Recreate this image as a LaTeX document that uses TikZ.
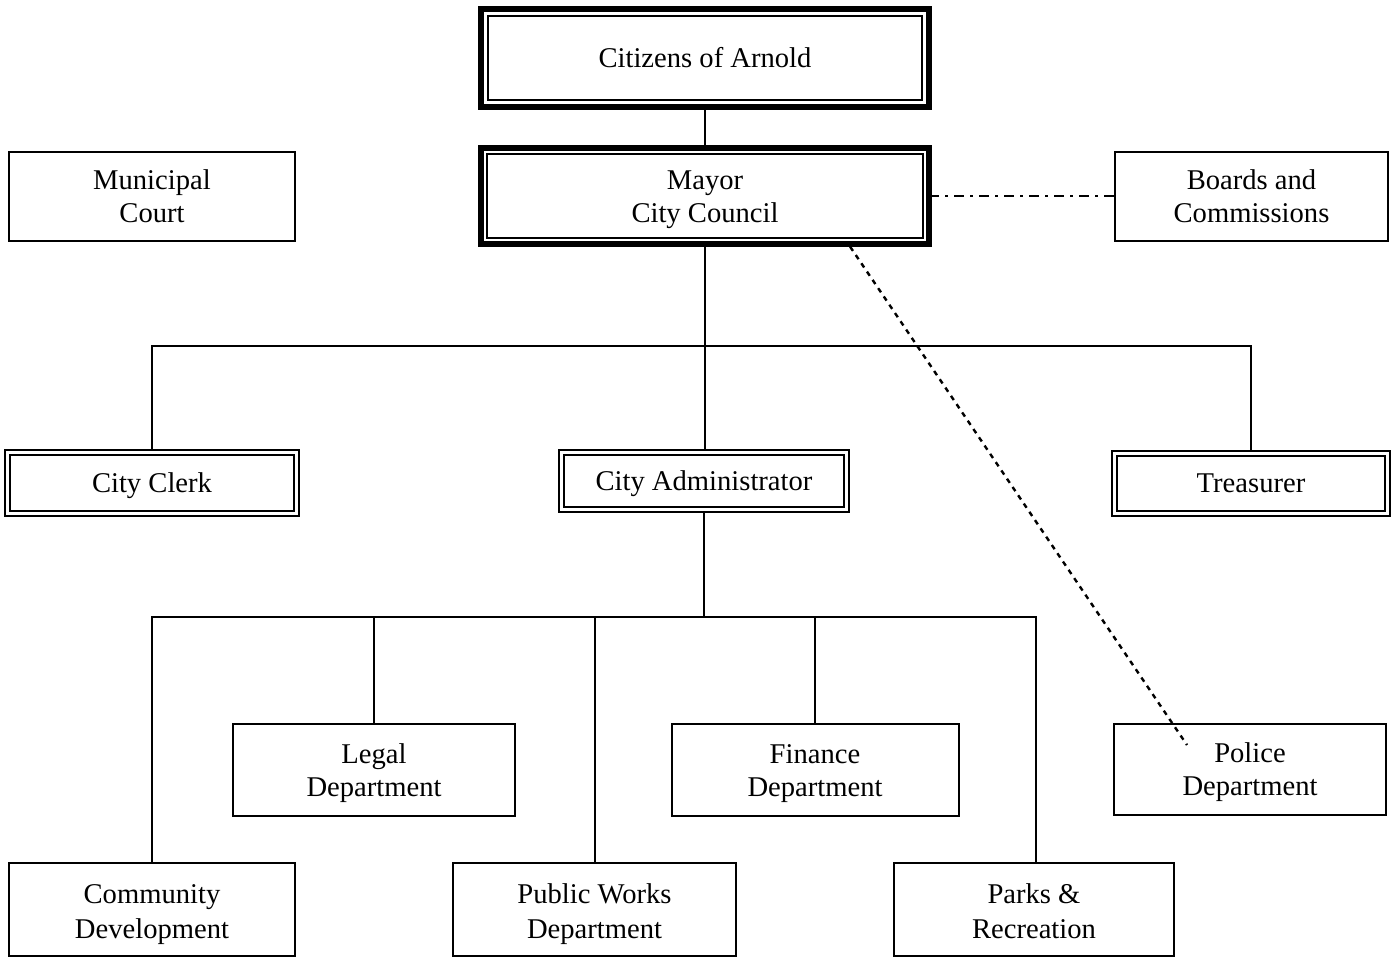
\documentclass[tikz,border=0pt]{standalone}
\usepackage{fontspec}
\setmainfont{Liberation Serif}
\usetikzlibrary{calc}
\newcommand\orgfont{\fontsize{14.3}{16.5}\selectfont}
\newcommand\orgfontb{\fontsize{14.3}{17.5}\selectfont}
\newcommand\orgline[1]{\rule{0pt}{9.5pt}\smash{#1}}
\newcommand\orglineb[1]{\rule{0pt}{11.5pt}\smash{#1}}
\tikzset{
  box/.style={draw, rectangle, line width=1pt, inner sep=0pt, outer sep=0pt,
    align=center, font=\orgfont, fill=white},
  lowbox/.style={box, font=\orgfontb},
  thickbox/.style={box, line width=3pt},
  conn/.style={line width=1pt},
  dashdotline/.style={line width=1.2pt, dash pattern=on 5pt off 3pt on 1.5pt off 3pt},
  dotline/.style={line width=1.2pt, dash pattern=on 2.5pt off 2.5pt},
  innerline/.style={line width=1pt}
}
\begin{document}
\begin{tikzpicture}[x=0.5pt, y=-0.5pt]
\useasboundingbox (0,0) rectangle (1398,958);

\coordinate (b1) at (704,346);
\coordinate (b2) at (704,617);

% top level
\node[thickbox, minimum width=224pt, minimum height=49pt] (cit) at (705,58) {\orgline{Citizens of Arnold}};
\node[thickbox, minimum width=224pt, minimum height=47.75pt] (mayor) at (705,196) {\orgline{Mayor}\\\orgline{City Council}};
\node[box, minimum width=143pt, minimum height=44.5pt] (court) at (152,196) {\orgline{Municipal}\\\orgline{Court}};
\node[box, minimum width=136.5pt, minimum height=44.5pt] (boards) at (1251.5,196) {\orgline{Boards and}\\\orgline{Commissions}};

% second level
\node[box, minimum width=147pt, minimum height=33pt] (clerk) at (152,482.5) {\orgline{City Clerk}};
\node[box, minimum width=144.75pt, minimum height=31pt] (admin) at (704,481) {\orgline{City Administrator}};
\node[box, minimum width=139.25pt, minimum height=32.5pt] (treas) at (1251,483) {\orgline{Treasurer}};

% third level
\node[box, minimum width=141pt, minimum height=46pt] (legal) at (374,770) {\orgline{Legal}\\\orgline{Department}};
\node[box, minimum width=143.5pt, minimum height=46pt] (fin) at (815,770) {\orgline{Finance}\\\orgline{Department}};
\node[box, minimum width=136pt, minimum height=45.5pt] (police) at (1250,769.5) {\orgline{Police}\\\orgline{Department}};
\node[lowbox, minimum width=143pt, minimum height=46.5pt] (comm) at (152,909.5) {\orglineb{Community}\\\orglineb{Development}};
\node[lowbox, minimum width=141.5pt, minimum height=46.5pt] (pw) at (594.5,909.5) {\orglineb{Public Works}\\\orglineb{Department}};
\node[lowbox, minimum width=140pt, minimum height=46.5pt] (parks) at (1034,909.5) {\orglineb{Parks \&}\\\orglineb{Recreation}};

% inner lines of double boxes
\draw[innerline] ([shift={(7,7)}]cit.north west) rectangle ([shift={(-7,-7)}]cit.south east);
\draw[innerline] ([shift={(6,6)}]mayor.north west) rectangle ([shift={(-6,-6)}]mayor.south east);
\draw[innerline] ([shift={(5,5)}]clerk.north west) rectangle ([shift={(-5,-5)}]clerk.south east);
\draw[innerline] ([shift={(5,5)}]admin.north west) rectangle ([shift={(-5,-5)}]admin.south east);
\draw[innerline] ([shift={(5,5)}]treas.north west) rectangle ([shift={(-5,-5)}]treas.south east);

% connectors
\draw[conn] (cit.south) -- (mayor.north);
\draw[conn] (mayor.south) -- (mayor.south |- admin.north);
\draw[conn] (clerk.north) -- (clerk.north |- b1) -- (treas.north |- b1) -- (treas.north);
\draw[conn] (admin.south) -- (admin.south |- b2);
\draw[conn] (comm.north) -- (comm.north |- b2) -- ([xshift=1pt]parks.north |- b2) -- ([xshift=1pt]parks.north);
\draw[conn] (legal.north) -- (legal.north |- b2);
\draw[conn] (pw.north) -- (pw.north |- b2);
\draw[conn] (fin.north) -- (fin.north |- b2);

\draw[dashdotline] (mayor.east) -- (boards.west);

\coordinate (dotend) at (1187,745);
\draw[dotline] ($(mayor.south west)!0.824!(mayor.south east)$) ++(0,3) -- (dotend);
\end{tikzpicture}
\end{document}
